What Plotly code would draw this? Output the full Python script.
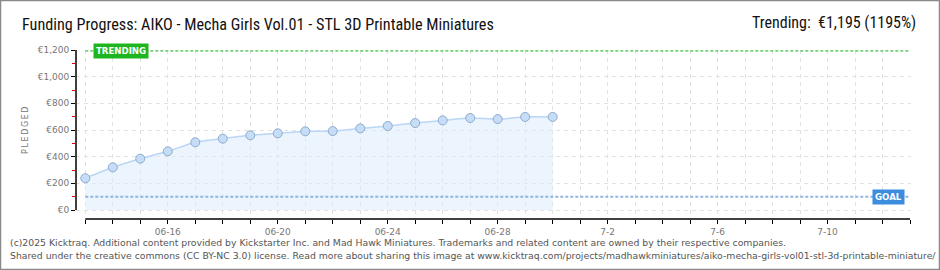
import plotly.graph_objects as go

# ---- data ----
dates = ["2025-06-13", "2025-06-14", "2025-06-15", "2025-06-16", "2025-06-17", "2025-06-18",
         "2025-06-19", "2025-06-20", "2025-06-21", "2025-06-22", "2025-06-23", "2025-06-24",
         "2025-06-25", "2025-06-26", "2025-06-27", "2025-06-28", "2025-06-29", "2025-06-30"]
pledged = [238, 320, 385, 440, 508, 535, 560, 575, 590, 592, 612, 630, 652, 672, 690, 682, 698, 698]
goal = 100
trending = 1195
x_start = "2025-06-13"
x_end = "2025-07-13"
y_ticks = [0, 200, 400, 600, 800, 1000, 1200]
y_ticktext = ["€0", "€200", "€400", "€600", "€800", "€1,000", "€1,200"]
y_minor = [100, 300, 500, 700, 900, 1100]
x_tickvals = ["2025-06-%02d" % d for d in range(13, 31)] + ["2025-07-%02d" % d for d in range(1, 14)]
x_labels = {"2025-06-16": "06-16", "2025-06-20": "06-20", "2025-06-24": "06-24",
            "2025-06-28": "06-28", "2025-07-02": "7-2", "2025-07-06": "7-6", "2025-07-10": "7-10"}
x_ticktext = [x_labels.get(v, "") for v in x_tickvals]

title = "Funding Progress: AIKO - Mecha Girls Vol.01 - STL 3D Printable Miniatures"
trend_text = "Trending:  €1,195 (1195%)"
footer1 = ("(c)2025 Kicktraq. Additional content provided by Kickstarter Inc. and Mad Hawk Miniatures. "
           "Trademarks and related content are owned by their respective companies.")
footer2 = ("Shared under the creative commons (CC BY-NC 3.0) license. Read more about sharing this image at "
           "www.kicktraq.com/projects/madhawkminiatures/aiko-mecha-girls-vol01-stl-3d-printable-miniature/")

# ---- layout geometry ----
W, H = 940, 270
L, R, T, B = 76, 29, 50, 51
PW, PH = W - L - R, H - T - B


def px(x):
    return (x - L) / PW


def py(y):
    return (H - B - y) / PH


fig = go.Figure()
fig.add_trace(go.Scatter(
    x=dates, y=pledged, mode="lines+markers",
    line=dict(color="#b9d6f6", width=1.5, shape="spline", smoothing=0.6),
    marker=dict(size=9, color="#c6ddf7", line=dict(color="#8faacb", width=1)),
    fill="tozeroy", fillcolor="rgba(221,236,252,0.55)",
    hoverinfo="skip", showlegend=False,
))

shapes = [
    # trending line
    dict(type="line", xref="x", yref="y", x0=x_start, x1=x_end, y0=trending, y1=trending,
         line=dict(color="#77d077", width=2, dash="3px,2px"), layer="above"),
    # goal line
    dict(type="line", xref="x", yref="y", x0=x_start, x1=x_end, y0=goal, y1=goal,
         line=dict(color="#8fb6e0", width=2, dash="3px,2px"), layer="above"),
    # y axis line
    dict(type="line", xref="paper", yref="y", x0=0, x1=0, y0=0, y1=1200,
         line=dict(color="black", width=1.5), layer="above"),
    # x axis line
    dict(type="line", xref="x", yref="paper", x0=x_start, x1=x_end, y0=0, y1=0,
         line=dict(color="black", width=1.5), layer="above"),
    # outer frame
    dict(type="rect", xref="paper", yref="paper", x0=px(0.5), x1=px(W - 0.5), y0=py(H - 0.5), y1=py(0.5),
         line=dict(color="#8a8a8a", width=1.5), layer="above"),
]

annotations = [
    dict(text=title, xref="paper", yref="paper", x=px(20), y=py(24), xanchor="left", yanchor="middle",
         showarrow=False, font=dict(family="Liberation Sans Narrow, Roboto Condensed, DejaVu Sans Condensed, sans-serif",
                                    size=16.2, color="#111")),
    dict(text=trend_text, xref="paper", yref="paper", x=px(918), y=py(22), xanchor="right", yanchor="middle",
         showarrow=False, font=dict(family="Liberation Sans Narrow, Roboto Condensed, DejaVu Sans Condensed, sans-serif",
                                    size=16, color="#111")),
    dict(text="<b>TRENDING</b>", xref="paper", yref="y", x=px(93), y=trending, xanchor="left", yanchor="middle",
         showarrow=False, bgcolor="#1fb51f", borderpad=2,
         font=dict(family="DejaVu Sans", size=8.6, color="white")),
    dict(text="<b>GOAL</b>", xref="paper", yref="y", x=px(905), y=goal, xanchor="right", yanchor="middle",
         showarrow=False, bgcolor="#3c8ddd", borderpad=2,
         font=dict(family="DejaVu Sans", size=8.6, color="white")),
    dict(text="P\u2009L\u2009E\u2009D\u2009G\u2009E\u2009D", xref="paper", yref="paper", x=px(25), y=py(130),
         xanchor="center", yanchor="middle", textangle=-90, showarrow=False,
         font=dict(family="DejaVu Sans", size=8, color="#777")),
    dict(text=footer1, xref="paper", yref="paper", x=px(8), y=py(242), xanchor="left", yanchor="middle",
         showarrow=False, font=dict(family="DejaVu Sans", size=9.3, color="#555")),
    dict(text=footer2, xref="paper", yref="paper", x=px(8), y=py(255), xanchor="left", yanchor="middle",
         showarrow=False, font=dict(family="DejaVu Sans", size=9.3, color="#555")),
]

fig.update_layout(
    width=W, height=H, margin=dict(l=L, r=R, t=T, b=B),
    paper_bgcolor="white", plot_bgcolor="white",
    shapes=shapes, annotations=annotations, showlegend=False,
    xaxis=dict(
        type="date", range=["2025-06-12 15:53", "2025-07-13 00:50"],
        tickmode="array", tickvals=x_tickvals, ticktext=x_ticktext,
        ticks="outside", ticklen=4, tickcolor="black", tickwidth=1,
        showline=False, zeroline=False,
        showgrid=True, gridcolor="#e2e2e2", griddash="4px,4px", gridwidth=1,
        tickfont=dict(family="DejaVu Sans", size=9, color="#777"),
    ),
    yaxis=dict(
        range=[-67.5, 1200],
        tickmode="array", tickvals=y_ticks, ticktext=y_ticktext,
        ticks="outside", ticklen=4, tickcolor="black", tickwidth=1,
        showline=False, zeroline=False,
        showgrid=True, gridcolor="#e2e2e2", griddash="4px,4px", gridwidth=1,
        tickfont=dict(family="DejaVu Sans", size=9, color="#777"),
        minor=dict(tickmode="array", tickvals=y_minor, ticks="outside", ticklen=3,
                   tickcolor="#e00000", showgrid=False),
    ),
)

fig.write_html("out.html")
